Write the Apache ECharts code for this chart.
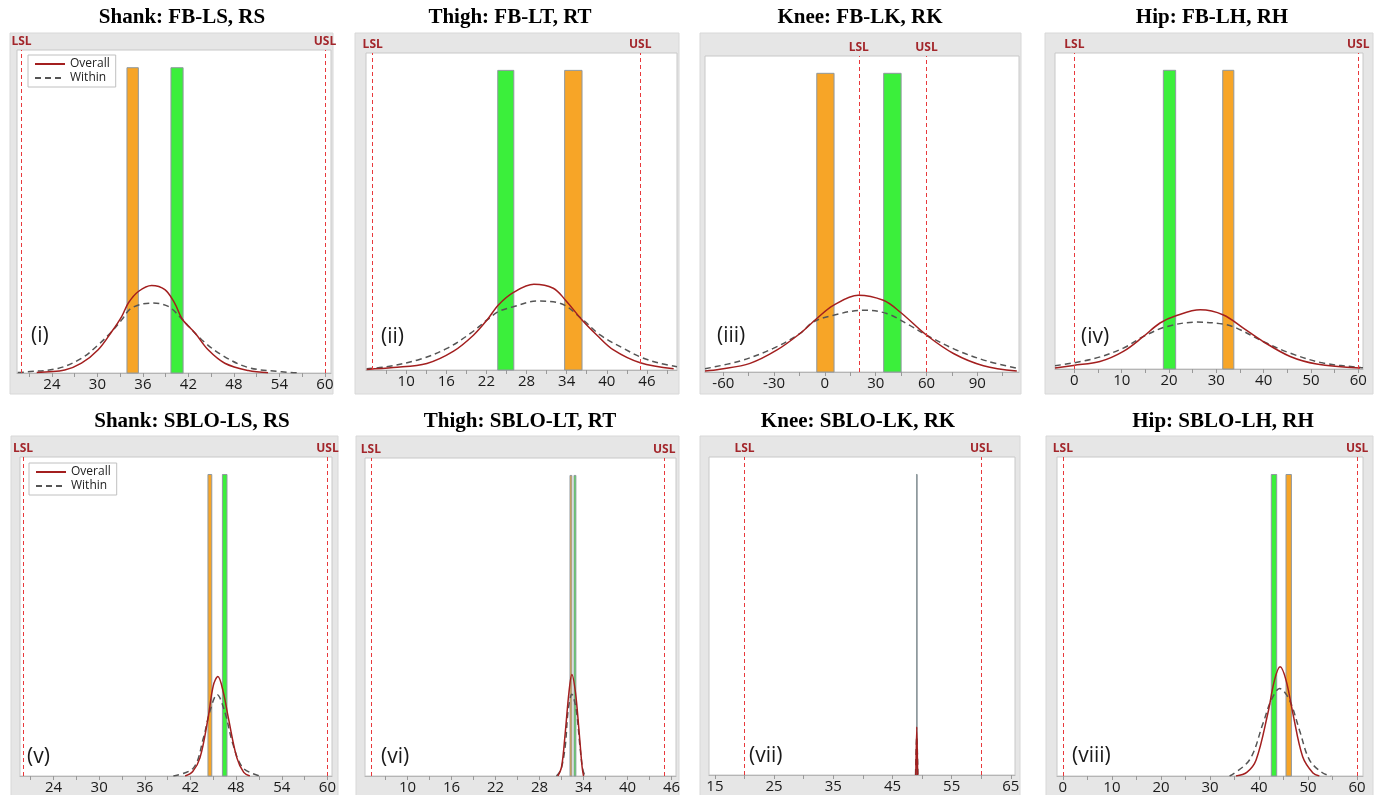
<!DOCTYPE html>
<html>
<head>
<meta charset="utf-8">
<script src="https://cdn.jsdelivr.net/npm/echarts@6/dist/echarts.min.js"></script>
<style>
  html, body { margin: 0; padding: 0; background: #fff; }
  #chart { width: 1377px; height: 795px; }
</style>
</head>
<body>
<div id="chart"></div>
<script>
// panel titles and tags
const titles = ['Shank: FB-LS, RS', 'Thigh: FB-LT, RT', 'Knee: FB-LK, RK', 'Hip: FB-LH, RH',
  'Shank: SBLO-LS, RS', 'Thigh: SBLO-LT, RT', 'Knee: SBLO-LK, RK', 'Hip: SBLO-LH, RH'];
const tags = ['(i)', '(ii)', '(iii)', '(iv)', '(v)', '(vi)', '(vii)', '(viii)'];

// spec limits
const lsl = [20, 5, 20, 0, 20, 5, 20, 0];
const usl = [60, 45, 60, 60, 60, 45, 60, 60];

// x axis ranges and ticks
const xMin = [19.4, 4.0, -70.8, -4.1, 19.6, 4.2, 14, -1.2];
const xMax = [60.8, 50.5, 114.6, 61, 60.6, 46.6, 65.7, 61.2];
const tickLabels = [
  [24, 30, 36, 42, 48, 54, 60],
  [10, 16, 22, 28, 34, 40, 46],
  [-60, -30, 0, 30, 60, 90],
  [0, 10, 20, 30, 40, 50, 60],
  [24, 30, 36, 42, 48, 54, 60],
  [10, 16, 22, 28, 34, 40, 46],
  [15, 25, 35, 45, 55, 65],
  [0, 10, 20, 30, 40, 50, 60]
];
const tickMarks = [
  [21, 24, 27, 30, 33, 36, 39, 42, 45, 48, 51, 54, 57, 60],
  [7, 10, 13, 16, 19, 22, 25, 28, 31, 34, 37, 40, 43, 46, 49],
  [-60, -45, -30, -15, 0, 15, 30, 45, 60, 75, 90, 105],
  [0, 5, 10, 15, 20, 25, 30, 35, 40, 45, 50, 55, 60],
  [21, 24, 27, 30, 33, 36, 39, 42, 45, 48, 51, 54, 57, 60],
  [7, 10, 13, 16, 19, 22, 25, 28, 31, 34, 37, 40, 43, 46],
  [15, 20, 25, 30, 35, 40, 45, 50, 55, 60, 65],
  [0, 5, 10, 15, 20, 25, 30, 35, 40, 45, 50, 55, 60]
];

// histogram bins [from, to], one observation each
const binOrange = [[33.9, 35.4], [33.7, 36.3], [-4.8, 5.4], [31.35, 33.7],
  [44.3, 44.8], [32.15, 32.4], [49.08, 49.12], [45.5, 46.6]];
const binGreen = [[39.7, 41.3], [23.7, 26.1], [34.7, 45.0], [18.8, 21.4],
  [46.2, 46.8], [32.7, 32.95], [49.08, 49.12], [42.5, 43.6]];
const binCount = 1;

// fitted curves [x, height]
const overall = [
  [[22, 0.002], [25.7, 0.01], [27.9, 0.032], [30.1, 0.076], [31.9, 0.136], [33.2, 0.185], [34.1, 0.23],
   [35.4, 0.267], [37.15, 0.287], [38.9, 0.273], [40.2, 0.228], [41.2, 0.176], [42.9, 0.13], [44.6, 0.076],
   [46.8, 0.032], [49.9, 0.008], [52.5, 0.001]],
  [[4.1, 0.002], [8.1, 0.008], [13.1, 0.022], [17.1, 0.063], [20.1, 0.117], [22.1, 0.167], [23.8, 0.217],
   [26.0, 0.258], [29.1, 0.286], [32.0, 0.273], [33.8, 0.234], [36.3, 0.167], [38.5, 0.117], [41.0, 0.067],
   [45.0, 0.024], [50.0, 0.004]],
  [[-70.8, 0.003], [-62, 0.009], [-44.2, 0.029], [-28.5, 0.073], [-14.7, 0.129], [-4.8, 0.179], [5.0, 0.223],
   [19.7, 0.257], [34.5, 0.24], [44.4, 0.201], [60.1, 0.123], [75.9, 0.062], [93.6, 0.021], [113.3, 0.003]],
  [[-4.1, 0.003], [-0.2, 0.012], [5.4, 0.025], [10.35, 0.059], [14.6, 0.109], [18.1, 0.154], [21.6, 0.179],
   [26.6, 0.198], [31.5, 0.181], [35.7, 0.137], [39.9, 0.092], [45.6, 0.042], [51.2, 0.017], [60.4, 0.003]],
  [[41.3, 0], [42.3, 0.015], [43.25, 0.06], [44.3, 0.19], [45.0, 0.30], [45.6, 0.33], [46.3, 0.28],
   [47.0, 0.19], [48.1, 0.06], [49.0, 0.012], [49.8, 0]],
  [[30.5, 0], [31.0, 0.03], [31.5, 0.144], [32.0, 0.277], [32.4, 0.338], [32.9, 0.277], [33.4, 0.144],
   [33.8, 0.03], [34.0, 0]],
  [[48.95, 0], [49.1, 0.16], [49.25, 0]],
  [[35.3, 0], [37.5, 0.012], [39.4, 0.053], [41.8, 0.208], [43.15, 0.318], [44.3, 0.362], [45.5, 0.318],
   [46.9, 0.208], [48.9, 0.064], [51.0, 0.01], [52.3, 0]]
];
const within = [
  [[19.5, 0.002], [20.4, 0.003], [24.8, 0.015], [27.9, 0.048], [30.1, 0.092], [31.9, 0.136], [33.2, 0.174],
   [34.5, 0.213], [37.15, 0.229], [39.35, 0.218], [41.24, 0.174], [43.75, 0.109], [46.4, 0.059],
   [49.9, 0.018], [54.3, 0.004], [56.3, 0.001]],
  [[4.1, 0.004], [7.1, 0.011], [12.1, 0.036], [16.1, 0.072], [19.6, 0.122], [22.1, 0.167], [23.8, 0.195],
   [26.0, 0.211], [29.5, 0.23], [33.0, 0.223], [36.3, 0.17], [39.0, 0.117], [42.5, 0.072], [45.2, 0.042],
   [48.0, 0.022], [50.5, 0.011]],
  [[-70.8, 0.011], [-50.1, 0.037], [-30.5, 0.079], [-14.7, 0.129], [-6.8, 0.168], [5.0, 0.19], [22.7, 0.207],
   [36.5, 0.196], [48.3, 0.162], [60.1, 0.123], [77.9, 0.073], [95.6, 0.037], [114.6, 0.011]],
  [[-4.1, 0.011], [4.0, 0.034], [10.35, 0.07], [14.6, 0.109], [19.5, 0.142], [25.9, 0.157], [31.5, 0.15],
   [34.3, 0.137], [39.9, 0.092], [45.6, 0.053], [52.6, 0.02], [60.4, 0.005], [61, 0.004]],
  [[39.75, 0], [42.4, 0.027], [43.7, 0.126], [44.55, 0.214], [45.5, 0.27], [46.5, 0.214], [47.6, 0.104],
   [48.9, 0.027], [51.1, 0]],
  [[30.3, 0], [30.9, 0.02], [31.5, 0.1], [31.9, 0.22], [32.4, 0.272], [33.0, 0.22], [33.5, 0.1],
   [33.9, 0.02], [34.2, 0]],
  [[48.9, 0], [49.1, 0.127], [49.3, 0]],
  [[34.0, 0], [38.05, 0.053], [40.8, 0.174], [42.5, 0.252], [44.2, 0.29], [46.2, 0.252], [48.25, 0.152],
   [50.3, 0.053], [53.0, 0.01], [54.7, 0]]
];

// layout (pixels)
const grids = [
  { left: 17, top: 50, width: 314, height: 323 },
  { left: 366, top: 53, width: 311, height: 317 },
  { left: 705, top: 56, width: 314, height: 316 },
  { left: 1055, top: 53, width: 308, height: 316 },
  { left: 20, top: 457, width: 312, height: 321 },
  { left: 365, top: 458, width: 311, height: 319 },
  { left: 709, top: 457, width: 306, height: 318 },
  { left: 1057, top: 457, width: 306, height: 319 }
];
const boxes = [[10, 33, 323, 361], [355, 33, 324, 361], [700, 33, 321, 361], [1045, 33, 328, 361],
  [11, 436, 327, 362], [356, 436, 323, 362], [700, 436, 320, 362], [1046, 436, 327, 362]];
const titlePos = [[182, 18], [510, 18], [860, 18], [1212, 18], [192, 422], [520, 422], [858, 422], [1223, 422]];
const tagPos = [[31, 336], [381, 337], [717, 336], [1081, 337], [27, 757], [381, 757], [749, 756], [1072, 756]];

const ORANGE = '#f7a527';
const GREEN = '#3bef3b';
const RED = '#a31f1f';
const SANS = '"Open Sans", "Noto Sans", sans-serif';

const chart = echarts.init(document.getElementById('chart'));

const binRender = (params, api) => {
  const p0 = api.coord([api.value(0), 0]);
  const p1 = api.coord([api.value(1), api.value(2)]);
  return {
    type: 'rect',
    shape: { x: p0[0], y: p1[1], width: Math.max(p1[0] - p0[0], 0.3), height: p0[1] - p1[1] },
    style: { fill: api.visual('color'), stroke: '#8f989f', lineWidth: 1 }
  };
};

const graphic = [];
const xAxis = [];
const yAxis = [];
const series = [];

for (let k = 0; k < 8; k++) {
  const b = boxes[k];
  graphic.push({ type: 'rect', z: -10, shape: { x: b[0], y: b[1], width: b[2], height: b[3] },
    style: { fill: '#e6e6e6', stroke: '#d8d8d8' } });
  graphic.push({ type: 'text', x: titlePos[k][0], y: titlePos[k][1],
    style: { text: titles[k], font: 'bold 21px "Liberation Serif", serif', fill: '#000',
      textAlign: 'center', textVerticalAlign: 'middle' } });
  graphic.push({ type: 'text', x: tagPos[k][0], y: tagPos[k][1], z: 20,
    style: { text: tags[k], font: '21px ' + SANS, fill: '#1a1a1a', textVerticalAlign: 'middle' } });

  xAxis.push({
    type: 'value', gridIndex: k, min: xMin[k], max: xMax[k],
    axisLine: { show: true, lineStyle: { color: '#b5b5b5' } },
    axisTick: { show: true, customValues: tickMarks[k], length: 4, lineStyle: { color: '#999' } },
    axisLabel: { customValues: tickLabels[k], color: '#1a1a1a', fontSize: 15, fontFamily: SANS, margin: 4 },
    splitLine: { show: false }
  });
  yAxis.push({ type: 'value', gridIndex: k, min: 0, max: 1.058, show: false });

  series.push({
    type: 'custom', name: 'binOrange', xAxisIndex: k, yAxisIndex: k, silent: true,
    itemStyle: { color: ORANGE }, renderItem: binRender, encode: { x: [0, 1], y: 2 },
    data: [[binOrange[k][0], binOrange[k][1], binCount]]
  });
  series.push({
    type: 'custom', name: 'binGreen', xAxisIndex: k, yAxisIndex: k, silent: true,
    itemStyle: { color: GREEN }, renderItem: binRender, encode: { x: [0, 1], y: 2 },
    data: [[binGreen[k][0], binGreen[k][1], binCount]]
  });
  series.push({
    type: 'line', name: 'Within', xAxisIndex: k, yAxisIndex: k, data: within[k],
    symbol: 'none', smooth: 0.35, silent: true,
    lineStyle: { color: '#555', width: 1.5, type: [6, 4] }, itemStyle: { color: '#555' },
    markLine: {
      silent: true, symbol: ['none', 'none'],
      lineStyle: { color: '#e8393c', type: [4, 3], width: 1 },
      label: { show: true, position: 'end', formatter: '{b}', color: '#a3262b', fontSize: 12,
        fontWeight: 'bold', fontFamily: SANS, distance: 2 },
      data: [{ name: 'LSL', xAxis: lsl[k] }, { name: 'USL', xAxis: usl[k] }]
    }
  });
  series.push({
    type: 'line', name: 'Overall', xAxisIndex: k, yAxisIndex: k, data: overall[k],
    symbol: 'none', smooth: 0.35, silent: true,
    lineStyle: { color: RED, width: 1.5 }, itemStyle: { color: RED }
  });
}

// legend: line only, no symbol dot
const legendBase = {
  data: ['Overall', 'Within'], orient: 'vertical', itemWidth: 30, itemHeight: 12, itemGap: 2,
  padding: [3, 6], backgroundColor: '#fff', borderColor: '#c0c0c0', borderWidth: 1, borderRadius: 0,
  itemStyle: { opacity: 0 },
  textStyle: { fontSize: 12, fontFamily: SANS, color: '#222' }, selectedMode: false
};

chart.setOption({
  animation: false,
  grid: grids.map(g => Object.assign({ show: true, backgroundColor: '#fff', borderColor: '#c8c8c8', borderWidth: 1 }, g)),
  legend: [
    Object.assign({ left: 28, top: 55 }, legendBase),
    Object.assign({ left: 29, top: 463 }, legendBase)
  ],
  graphic: graphic,
  xAxis: xAxis,
  yAxis: yAxis,
  series: series
});
</script>
</body>
</html>
